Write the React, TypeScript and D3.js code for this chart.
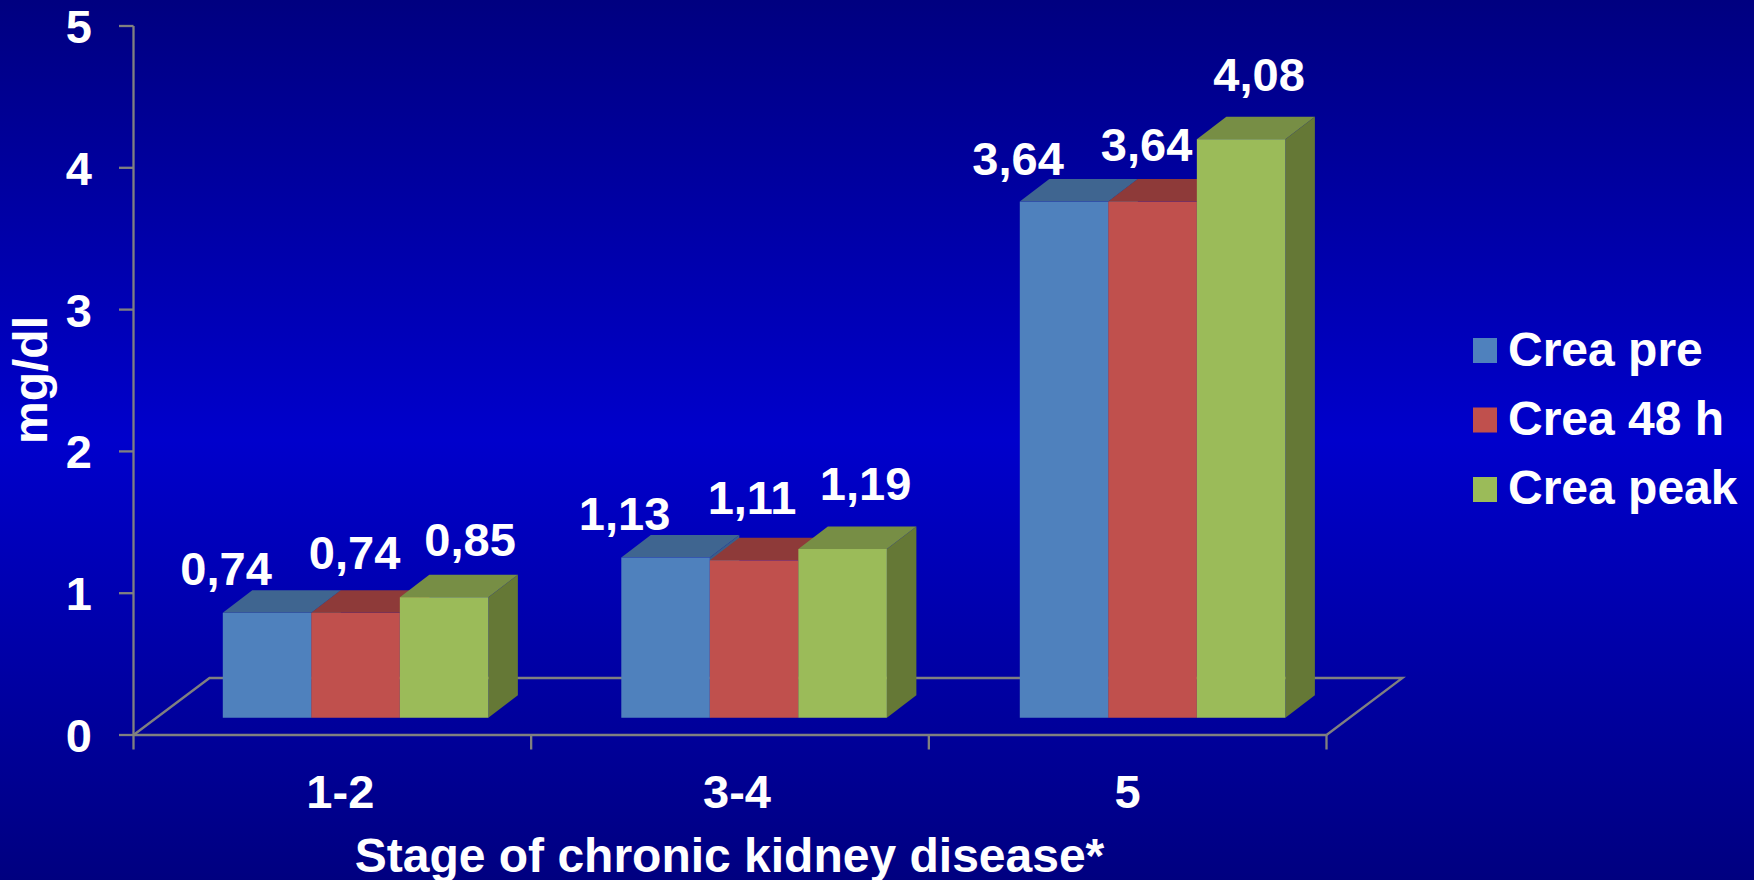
import React from "react";
import * as d3 from "d3";

const categories = ["1-2", "3-4", "5"];
const seriesNames = ["Crea pre", "Crea 48 h", "Crea peak"];
const creaPre = [0.74, 1.13, 3.64];
const crea48h = [0.74, 1.11, 3.64];
const creaPeak = [0.85, 1.19, 4.08];
const seriesValues = [creaPre, crea48h, creaPeak];
const yTicks = [0, 1, 2, 3, 4, 5];
const frontColors = ["#4f81bd", "#c0504d", "#9bbb59"];
const topColors = ["#3f6590", "#8e3a39", "#778e45"];
const sideColors = ["#3a5f8a", "#8c3735", "#657836"];
// hand-placed label offsets relative to each bar [series][category]
const labelDx = [[-41, -41, -46], [-1, -2, -6], [26, 23, 18]];
const labelDy = [[-5, -5, -4], [-21, -23.5, -18.5], [-18.5, -27, -25.5]];
const categoryLabelDx = [8, 7, 0];

const W = 1754, H = 880;
const axisColor = "#808080";
const axisWidth = 2.3;
const fontFamily = "'Liberation Sans', Arial, sans-serif";
const FS = 47;
const FS_TITLE = 48;

const y0 = 735, y5 = 26;
const x0 = 133.5, x3 = 1326.5;
const floorDx = 76, floorDy = 57;
const depthDx = 29.5, depthDy = 22.5;

const yScale = d3.scaleLinear().domain([0, 5]).range([y0, y5]);
const xGroup = d3.scaleBand<string>().domain(categories).range([x0, x3]);
// the bars sit on a slightly wider step than the axis ticks, as in the reference
const xBarGroup = d3.scaleBand<string>().domain(categories).range([x0, x3 + 2.5]);
const xBar = d3.scaleBand<number>().domain([0, 1, 2]).range([0, xGroup.bandwidth()]).paddingOuter(0.746).paddingInner(0);

const shiftX = (floorDx - depthDx) / 2;
const shiftY = (floorDy - depthDy) / 2;

const poly = (pts: [number, number][]) => pts.map((p) => p.join(",")).join(" ");

export default function App() {
  const bw = xBar.bandwidth();
  const unit = yScale(0) - yScale(1);
  return (
    <svg width={W} height={H} viewBox={`0 0 ${W} ${H}`} style={{ position: "fixed", left: 0, top: 0, display: "block" }} fontFamily={fontFamily} fontWeight="bold">
      <defs>
        <linearGradient id="bg" x1="0" y1="0" x2="0" y2="1">
          <stop offset="0" stopColor="#000080" />
          <stop offset="0.5" stopColor="#0000cc" />
          <stop offset="1" stopColor="#000080" />
        </linearGradient>
      </defs>
      <rect width={W} height={H} fill="url(#bg)" />

      <polyline points={poly([[x0, y0], [x0 + floorDx, y0 - floorDy], [x3 + floorDx, y0 - floorDy], [x3, y0]])} fill="none" stroke={axisColor} strokeWidth={axisWidth} />
      <line x1={x0} x2={x0} y1={y5} y2={y0} stroke={axisColor} strokeWidth={axisWidth} />
      <line x1={x0} x2={x3} y1={y0} y2={y0} stroke={axisColor} strokeWidth={axisWidth} />
      {yTicks.map((t) => (
        <g key={t}>
          <line x1={x0 - 14.5} x2={x0} y1={yScale(t)} y2={yScale(t)} stroke={axisColor} strokeWidth={axisWidth} />
          <text x={92} y={yScale(t) + 17} textAnchor="end" fontSize={FS} fill="#fff">{t}</text>
        </g>
      ))}
      {[0, 1, 2, 3].map((i) => {
        const x = x0 + i * xGroup.step();
        return <line key={i} x1={x} x2={x} y1={y0} y2={y0 + 14.5} stroke={axisColor} strokeWidth={axisWidth} />;
      })}

      {categories.map((c, ci) =>
        seriesValues.map((vals, si) => {
          const v = vals[ci];
          const x = (xBarGroup(c) as number) + (xBar(si) as number) + shiftX;
          const b = y0 - shiftY;
          const t = b - v * unit;
          return (
            <g key={c + si}>
              <polygon points={poly([[x + bw, b], [x + bw + depthDx, b - depthDy], [x + bw + depthDx, t - depthDy], [x + bw, t]])} fill={sideColors[si]} />
              <polygon points={poly([[x, t], [x + depthDx, t - depthDy], [x + bw + depthDx, t - depthDy], [x + bw, t]])} fill={topColors[si]} />
              <rect x={x} y={t} width={bw} height={b - t} fill={frontColors[si]} />
            </g>
          );
        })
      )}

      {categories.map((c, ci) =>
        seriesValues.map((vals, si) => {
          const v = vals[ci];
          const x = (xBarGroup(c) as number) + (xBar(si) as number) + shiftX + bw / 2;
          const t = y0 - shiftY - v * unit - depthDy;
          return (
            <text key={c + si} x={x + labelDx[si][ci]} y={t + labelDy[si][ci]} textAnchor="middle" fontSize={FS} fill="#fff">
              {v.toFixed(2).replace(".", ",")}
            </text>
          );
        })
      )}

      {categories.map((c, ci) => (
        <text key={c} x={(xGroup(c) as number) + xGroup.bandwidth() / 2 + categoryLabelDx[ci]} y={808} textAnchor="middle" fontSize={FS} fill="#fff">{c}</text>
      ))}
      <text x={729.5} y={872} textAnchor="middle" fontSize={FS_TITLE} fill="#fff">Stage of chronic kidney disease*</text>
      <text transform="translate(46.5,380) rotate(-90)" textAnchor="middle" fontSize={FS_TITLE} fill="#fff">mg/dl</text>

      {seriesNames.map((n, i) => (
        <g key={n}>
          <rect x={1473} y={338 + i * 69.5} width={24} height={25} fill={frontColors[i]} />
          <text x={1508} y={365.5 + i * 69.2} fontSize={FS_TITLE} fill="#fff">{n}</text>
        </g>
      ))}
    </svg>
  );
}
